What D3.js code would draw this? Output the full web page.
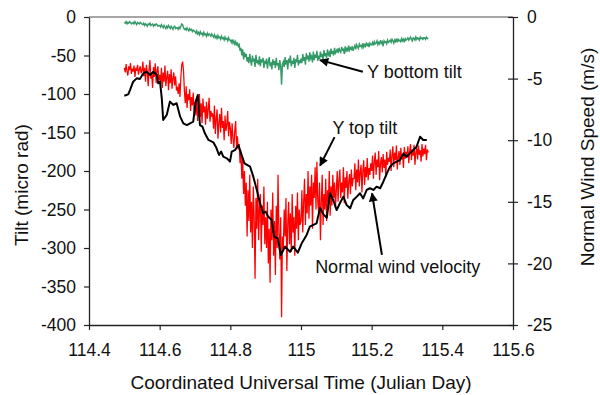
<!DOCTYPE html>
<html lang="en">
<head>
<meta charset="utf-8">
<title>Tilt and wind</title>
<script src="https://d3js.org/d3.v7.min.js"></script>
<style>
  body { margin: 0; background: #fff; }
  svg text { font-family: "Liberation Sans", Arial, sans-serif; fill: #111; }
</style>
</head>
<body>
<svg width="600" height="395"></svg>
<script>
// x axis ticks (Julian day) and y ticks
const xTicks = [114.4, 114.6, 114.8, 115, 115.2, 115.4, 115.6];
const tiltTicks = [0, -50, -100, -150, -200, -250, -300, -350, -400];
const windTicks = [0, -5, -10, -15, -20, -25];

// Y top tilt (micro rad), one sample every 0.0025 day from 114.5
const topStart = 114.5, topStep = 0.0025;
const topTilt = [
  -66,-72,-61,-70,-76,-64,-69,-60,-74,-67,-71,-63,-78,-66,-70,-62,-75,-68,-64,-73,
  -70,-58,-77,-66,-84,-62,-72,-90,-68,-56,-80,-74,-92,-65,-78,-60,-86,-70,-64,-82,
  -75,-88,-66,-92,-72,-84,-63,-90,-78,-70,-95,-74,-86,-68,-93,-80,-72,-89,-77,-94,
  -92,-100,-86,-104,-78,-62,-58,-70,-96,-112,-90,-118,-100,-108,-94,-122,-104,-115,-98,-125,
  -110,-128,-104,-135,-118,-100,-130,-112,-138,-106,-124,-116,-140,-110,-132,-120,-105,-136,-122,-128,
  -125,-145,-115,-152,-132,-120,-158,-138,-126,-150,-118,-144,-135,-160,-128,-148,-140,-122,-155,-136,
  -145,-165,-138,-158,-170,-148,-135,-168,-155,-172,-165,-190,-175,-210,-185,-230,-200,-245,-215,-285,
  -225,-265,-205,-280,-240,-300,-220,-260,-340,-235,-275,-210,-290,-250,-230,-305,-245,-270,-220,-295,
  -260,-300,-240,-320,-275,-345,-250,-290,-228,-310,-265,-335,-245,-300,-205,-280,-315,-260,-390,-285,
  -300,-250,-285,-235,-330,-270,-240,-295,-255,-305,-230,-280,-260,-310,-245,-275,-228,-290,-250,-270,
  -265,-225,-280,-240,-210,-270,-230,-255,-200,-262,-220,-245,-205,-275,-215,-235,-195,-250,-188,-240,
  -255,-215,-290,-240,-205,-270,-230,-250,-210,-265,-225,-240,-200,-258,-220,-245,-205,-235,-215,-248,
  -225,-200,-240,-212,-198,-235,-215,-228,-195,-242,-208,-222,-200,-236,-214,-204,-230,-198,-220,-210,
  -210,-190,-225,-198,-215,-185,-220,-202,-192,-228,-200,-186,-218,-195,-208,-183,-212,-196,-205,-190,
  -200,-180,-210,-188,-176,-205,-185,-195,-174,-212,-190,-182,-202,-178,-196,-185,-208,-175,-192,-183,
  -188,-172,-200,-180,-168,-195,-176,-186,-167,-198,-182,-174,-192,-170,-185,-178,-196,-169,-184,-175,
  -182,-168,-190,-174,-165,-186,-172,-180,-166,-192,-176,-170,-185,-167,-179,-173,-188,-165,-181,-171,
  -178,-166,-186,-172,-176
];

// Y bottom tilt (micro rad), one sample every 0.0025 day from 114.5
const botStart = 114.5, botStep = 0.0025;
const bottomTilt = [
  -7,-8,-6,-9,-7,-8,-6,-7,-9,-8,-7,-9,-6,-8,-10,-7,-8,-9,-7,-8,
  -9,-10,-8,-11,-9,-10,-12,-9,-10,-8,-11,-10,-9,-12,-10,-11,-9,-10,-12,-11,
  -11,-13,-10,-12,-14,-11,-13,-15,-12,-14,-11,-13,-15,-12,-14,-16,-13,-12,-15,-14,
  -14,-16,-13,-15,-12,-9,-10,-14,-16,-15,-17,-14,-16,-18,-15,-17,-16,-19,-17,-18,
  -19,-21,-18,-22,-20,-23,-19,-22,-21,-24,-20,-23,-22,-25,-21,-24,-22,-23,-25,-22,
  -24,-26,-23,-27,-25,-28,-24,-27,-26,-29,-25,-28,-27,-30,-26,-29,-28,-31,-27,-30,
  -30,-33,-29,-34,-31,-35,-32,-37,-33,-38,-36,-44,-40,-50,-42,-55,-46,-52,-48,-58,
  -52,-60,-48,-57,-63,-50,-58,-54,-65,-49,-60,-56,-62,-51,-64,-55,-59,-53,-66,-57,
  -61,-54,-67,-58,-52,-64,-59,-68,-55,-62,-57,-66,-53,-63,-60,-69,-56,-64,-88,-61,
  -58,-65,-52,-62,-56,-68,-54,-60,-50,-64,-57,-61,-53,-66,-55,-59,-49,-63,-56,-60,
  -54,-60,-48,-57,-52,-62,-47,-55,-50,-58,-46,-54,-51,-59,-45,-56,-49,-53,-44,-57,
  -50,-55,-45,-52,-48,-56,-43,-51,-47,-53,-42,-49,-46,-52,-41,-48,-44,-50,-40,-47,
  -45,-41,-47,-40,-44,-46,-39,-43,-42,-48,-38,-44,-41,-45,-37,-43,-40,-42,-38,-44,
  -40,-37,-42,-36,-39,-41,-35,-38,-37,-40,-34,-39,-36,-38,-33,-37,-35,-39,-34,-36,
  -36,-33,-37,-32,-35,-34,-31,-36,-33,-35,-30,-34,-32,-38,-31,-33,-32,-35,-30,-33,
  -32,-30,-33,-29,-31,-34,-30,-32,-28,-33,-29,-31,-30,-32,-28,-31,-29,-33,-28,-30,
  -29,-27,-30,-28,-26,-29,-31,-27,-28,-30,-26,-29,-27,-28,-30,-26,-28,-27,-29,-27,
  -27,-29,-26,-28,-27
];

// normal wind velocity (m/s) against time
const windTime = [
  114.500,114.511,114.516,114.525,114.535,114.544,114.554,114.563,114.573,114.582,
  114.592,114.596,114.601,114.606,114.610,114.620,114.629,114.639,114.648,114.658,
  114.667,114.677,114.686,114.695,114.702,114.708,114.714,114.721,114.728,114.738,
  114.752,114.761,114.768,114.774,114.780,114.790,114.799,114.804,114.813,114.823,
  114.832,114.840,114.856,114.865,114.875,114.884,114.893,114.900,114.907,114.917,
  114.924,114.934,114.943,114.955,114.969,114.978,114.991,115.002,115.016,115.025,
  115.035,115.044,115.054,115.063,115.073,115.082,115.091,115.101,115.110,115.120,
  115.129,115.139,115.148,115.158,115.167,115.176,115.186,115.195,115.205,115.214,
  115.224,115.233,115.243,115.252,115.261,115.271,115.280,115.290,115.299,115.308,
  115.318,115.327,115.337,115.346,115.356
];
const windSpeed = [
  -6.39,-6.28,-5.93,-5.25,-4.98,-5.03,-4.57,-4.44,-4.71,-4.44,
  -4.71,-5.38,-5.25,-6.6,-8.36,-7.95,-6.87,-7.14,-7.0,-8.09,
  -8.63,-8.77,-8.63,-8.5,-6.87,-6.33,-8.77,-8.9,-9.44,-9.98,
  -10.17,-10.66,-11.2,-10.93,-11.34,-11.47,-11.74,-10.93,-10.8,-10.39,
  -11.2,-11.88,-12.15,-12.96,-14.04,-15.12,-15.93,-15.8,-16.2,-16.48,
  -17.83,-17.96,-19.32,-18.64,-19.05,-18.64,-19.13,-18.37,-17.69,-17.02,
  -16.88,-16.75,-15.5,-16.0,-16.3,-14.3,-14.85,-15.67,-15.12,-14.58,
  -15.26,-15.53,-14.85,-14.58,-14.31,-14.72,-14.04,-13.9,-14.04,-13.77,
  -13.9,-13.37,-12.69,-12.15,-11.88,-11.74,-11.6,-11.07,-11.34,-11.07,
  -10.8,-10.53,-9.72,-9.98,-9.98
];

// callouts, in data units (day, micro rad)
const notes = [
  { text: "Y bottom tilt", tx: 115.187, ty: -79, from: [115.175, -71], to: [115.054, -56] },
  { text: "Y top tilt", tx: 115.089, ty: -152, from: [115.095, -156], to: [115.054, -193] },
  { text: "Normal wind velocity", tx: 115.04, ty: -333, from: [115.229, -309], to: [115.201, -229] }
];

const svg = d3.select("svg");
const mLeft = 89, mRight = 513, mTop = 17, mBottom = 325;

const x = d3.scaleLinear().domain([114.4, 115.6]).range([mLeft, mRight]);
const yL = d3.scaleLinear().domain([-400, 0]).range([mBottom, mTop]);
const yR = d3.scaleLinear().domain([-25, 0]).range([mBottom, mTop]);

svg.append("defs").append("marker")
   .attr("id", "arrow")
   .attr("viewBox", "0 0 10 10")
   .attr("refX", 9).attr("refY", 5)
   .attr("markerWidth", 12).attr("markerHeight", 9)
   .attr("markerUnits", "userSpaceOnUse")
   .attr("orient", "auto")
   .append("path")
   .attr("d", "M0,0 L10,5 L0,10 Z")
   .attr("fill", "#000");

// top frame line
svg.append("line")
   .attr("x1", mLeft).attr("x2", mRight)
   .attr("y1", mTop).attr("y2", mTop)
   .attr("stroke", "#888").attr("stroke-width", 1.3);

// series
const botLine = d3.line()
   .x((d, i) => x(botStart + i * botStep))
   .y(d => yL(d));
svg.append("path")
   .datum(bottomTilt)
   .attr("d", botLine)
   .attr("fill", "none")
   .attr("stroke", "#339966")
   .attr("stroke-width", 1.4);

const topLine = d3.line()
   .x((d, i) => x(topStart + i * topStep))
   .y(d => yL(d));
svg.append("path")
   .datum(topTilt)
   .attr("d", topLine)
   .attr("fill", "none")
   .attr("stroke", "#ff0000")
   .attr("stroke-width", 1.25);

const windLine = d3.line()
   .x((d, i) => x(windTime[i]))
   .y(d => yR(d));
svg.append("path")
   .datum(windSpeed)
   .attr("d", windLine)
   .attr("fill", "none")
   .attr("stroke", "#000")
   .attr("stroke-width", 2)
   .attr("stroke-linejoin", "round");

// axes
const fmt = d => String(d);

const gx = svg.append("g")
   .attr("transform", `translate(0,${mBottom})`)
   .call(d3.axisBottom(x).tickValues(xTicks).tickFormat(fmt).tickSize(5).tickSizeOuter(0).tickPadding(14));

const gl = svg.append("g")
   .attr("transform", `translate(${mLeft},0)`)
   .call(d3.axisLeft(yL).tickValues(tiltTicks).tickFormat(fmt).tickSize(5).tickSizeOuter(0).tickPadding(8));

const gr = svg.append("g")
   .attr("transform", `translate(${mRight},0)`)
   .call(d3.axisRight(yR).tickValues(windTicks).tickFormat(fmt).tickSize(5).tickSizeOuter(0).tickPadding(9));
gr.selectAll(".tick line").attr("x1", -5);

[gx, gl, gr].forEach(g => {
  g.selectAll("path.domain").attr("stroke", "#222").attr("stroke-width", 1.3);
  g.selectAll(".tick line").attr("stroke", "#222").attr("stroke-width", 1.2);
  g.selectAll(".tick text")
   .attr("font-size", 17.5)
   .attr("font-family", null)
   .style("fill", "#111");
});

// axis titles
svg.append("text")
   .attr("x", (mLeft + mRight) / 2)
   .attr("y", 389)
   .attr("text-anchor", "middle")
   .attr("font-size", 19)
   .text("Coordinated Universal Time (Julian Day)");

svg.append("text")
   .attr("transform", `translate(28,${(mTop + mBottom) / 2 + 14}) rotate(-90)`)
   .attr("text-anchor", "middle")
   .attr("font-size", 19)
   .text("Tilt (micro rad)");

svg.append("text")
   .attr("transform", `translate(594,${(mTop + mBottom) / 2 - 14}) rotate(-90)`)
   .attr("text-anchor", "middle")
   .attr("font-size", 19)
   .text("Normal Wind Speed (m/s)");

// callouts
notes.forEach(n => {
  svg.append("line")
     .attr("x1", x(n.from[0])).attr("y1", yL(n.from[1]))
     .attr("x2", x(n.to[0])).attr("y2", yL(n.to[1]))
     .attr("stroke", "#000").attr("stroke-width", 2)
     .attr("marker-end", "url(#arrow)");
  svg.append("text")
     .attr("x", x(n.tx)).attr("y", yL(n.ty))
     .attr("font-size", 18)
     .text(n.text);
});
</script>
</body>
</html>
